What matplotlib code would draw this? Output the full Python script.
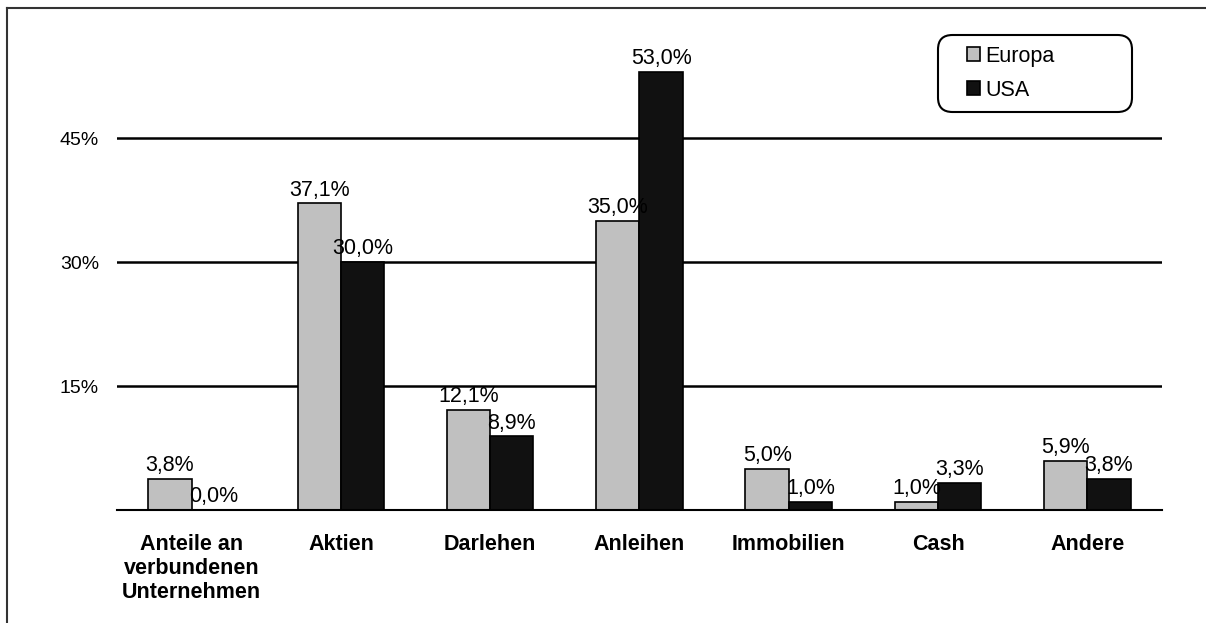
import matplotlib.pyplot as plt
import numpy as np
from matplotlib.patches import Patch, FancyBboxPatch
from matplotlib.lines import Line2D

plt.rcParams["font.family"] = ["Liberation Sans", "DejaVu Sans"]

categories = ["Anteile an\nverbundenen\nUnternehmen", "Aktien", "Darlehen",
              "Anleihen", "Immobilien", "Cash", "Andere"]
europa = [3.8, 37.1, 12.1, 35.0, 5.0, 1.0, 5.9]
usa = [0.0, 30.0, 8.9, 53.0, 1.0, 3.3, 3.8]
series_names = ["Europa", "USA"]
yticks = [15, 30, 45]

col_europa = "#c0c0c0"
col_usa = "#111111"

W, H = 1206, 623


def fmt(v):
    return f"{v:.1f}".replace(".", ",") + "%"


fig = plt.figure(figsize=(W / 100, H / 100), dpi=100)
ax = fig.add_axes([0.097, 0.1814, 0.8665, 0.796])

x = np.arange(len(categories))
w = 0.29
b1 = ax.bar(x - w / 2, europa, w, color=col_europa, edgecolor="black", linewidth=1.2, zorder=3)
b2 = ax.bar(x + w / 2, usa, w, color=col_usa, edgecolor="black", linewidth=1.2, zorder=3)

ax.bar_label(b1, labels=[fmt(v) for v in europa], padding=2, fontsize=15.5, zorder=4)
ax.bar_label(b2, labels=[fmt(v) for v in usa], padding=2, fontsize=15.5, zorder=4)

ax.set_xlim(-0.5, len(categories) - 0.5)
ax.set_ylim(0, 60)
ax.set_yticks(yticks)
ax.set_yticklabels([f"{t}%" for t in yticks], fontsize=14)
ax.set_xticks(x)
ax.set_xticklabels(categories, fontsize=15.5, fontweight="bold", linespacing=1.2)
ax.tick_params(axis="y", length=0, pad=13)
ax.tick_params(axis="x", length=0, pad=17)

for t in yticks:
    ax.axhline(t, color="black", linewidth=1.8, zorder=1)

for s in ["top", "right", "left"]:
    ax.spines[s].set_visible(False)
ax.spines["bottom"].set_linewidth(1.5)
ax.spines["bottom"].set_zorder(5)

# legend box drawn by hand (wide rounded frame)
box = FancyBboxPatch((938 / W, 1 - 112 / H), (1132 - 938) / W, (112 - 35) / H,
                     boxstyle="round,pad=0,rounding_size=0.012",
                     transform=fig.transFigure, facecolor="white",
                     edgecolor="black", linewidth=1.5, zorder=5,
                     mutation_aspect=W / H)
fig.add_artist(box)

handles = [Patch(facecolor=col_europa, edgecolor="black", linewidth=1.2),
           Patch(facecolor=col_usa, edgecolor="black", linewidth=1.2)]
leg = fig.legend(handles, series_names, loc="upper left",
                 bbox_to_anchor=(967 / W, 1 - 46 / H), fontsize=15.5,
                 handlelength=0.62, handleheight=0.62, handletextpad=0.25,
                 borderpad=0, labelspacing=0.6, borderaxespad=0,
                 frameon=False)
leg.set_zorder(6)

# outer frame (top and left edges visible)
fig.add_artist(Line2D([7 / W, 1.0], [1 - 8 / H, 1 - 8 / H],
                      transform=fig.transFigure, color="#333333", linewidth=1.5))
fig.add_artist(Line2D([7 / W, 7 / W], [0.0, 1 - 8 / H],
                      transform=fig.transFigure, color="#333333", linewidth=1.5))

fig.savefig("out.png", dpi=100)
